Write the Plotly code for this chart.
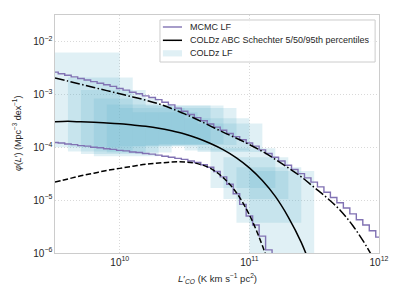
import numpy as np
import plotly.graph_objects as go

# ---------------- data (log10 values) ----------------
# COLDz LF boxes: log10 L'CO bin edges and log10 phi range
box_logL_lo = [9.5, 9.6, 9.7, 9.8, 9.9, 10.0, 10.1, 10.2, 10.3, 10.4, 10.5, 10.6, 10.7, 10.8, 10.9, 11.0]
box_logL_hi = [10.0, 10.1, 10.2, 10.3, 10.4, 10.5, 10.6, 10.7, 10.8, 10.9, 11.0, 11.1, 11.2, 11.3, 11.4, 11.5]
box_logphi_hi = [-2.21, -2.68, -2.92, -3.08, -3.19, -3.26, -3.34, -3.21, -3.21, -3.26, -3.45, -3.55, -4.02, -4.19, -4.38, -4.45]
box_logphi_lo = [-4.00, -4.08, -4.13, -4.17, -4.10, -3.98, -3.98, -3.96, -3.94, -3.96, -4.06, -4.09, -4.77, -4.98, -5.43, -7.00]

# MCMC LF (step lines), bin centres in log10 L'CO
mcmc_logL = [9.50, 9.55, 9.60, 9.65, 9.70, 9.75, 9.80, 9.85, 9.90, 9.95,
             10.00, 10.05, 10.10, 10.15, 10.20, 10.25, 10.30, 10.35, 10.40, 10.45,
             10.50, 10.55, 10.60, 10.65, 10.70, 10.75, 10.80, 10.85, 10.90, 10.95,
             11.00, 11.05, 11.10, 11.15, 11.20, 11.25, 11.30, 11.35, 11.40, 11.45,
             11.50, 11.55, 11.60, 11.65, 11.70, 11.75, 11.80, 11.85, 11.90, 11.95, 12.00]
mcmc_upper = [-2.58, -2.61, -2.64, -2.67, -2.70, -2.73, -2.76, -2.79, -2.82, -2.85,
              -2.89, -2.92, -2.96, -2.99, -3.03, -3.06, -3.10, -3.15, -3.20, -3.26,
              -3.32, -3.38, -3.44, -3.50, -3.56, -3.62, -3.68, -3.74, -3.80, -3.86,
              -3.92, -3.98, -4.05, -4.12, -4.19, -4.26, -4.34, -4.42, -4.50, -4.58,
              -4.66, -4.75, -4.85, -4.95, -5.05, -5.15, -5.26, -5.37, -5.47, -5.58, -5.70]
mcmc_lower = [-3.91, -3.92, -3.94, -3.95, -3.97, -3.98, -4.00, -4.01, -4.03, -4.04,
              -4.06, -4.07, -4.09, -4.10, -4.12, -4.13, -4.15, -4.17, -4.19, -4.21,
              -4.23, -4.26, -4.29, -4.33, -4.38, -4.46, -4.56, -4.70, -4.88, -5.08,
              -5.30, -5.47, -5.68, -5.94, -6.25, -6.60, -7.20]

# COLDz ABC Schechter percentiles
abc_logL = [9.5, 9.6, 9.7, 9.8, 9.9, 10.0, 10.1, 10.2, 10.3, 10.4, 10.5, 10.6, 10.7,
            10.8, 10.9, 11.0, 11.1, 11.2, 11.3, 11.4, 11.5, 11.6, 11.7, 11.8, 11.9, 12.0]
abc_p95 = [-2.69, -2.75, -2.81, -2.87, -2.93, -2.99, -3.05, -3.11, -3.18, -3.27, -3.37, -3.48, -3.60,
           -3.72, -3.83, -3.95, -4.08, -4.23, -4.39, -4.56, -4.76, -4.96, -5.19, -5.49, -5.86, -6.30]
abc_p50 = [-3.52, -3.51, -3.52, -3.53, -3.54, -3.555, -3.58, -3.605, -3.64, -3.69, -3.75, -3.83, -3.93,
           -4.05, -4.20, -4.39, -4.63, -4.93, -5.32, -5.80, -6.42]
abc_p05 = [-4.66, -4.60, -4.54, -4.49, -4.44, -4.40, -4.36, -4.32, -4.30, -4.28, -4.28, -4.31, -4.40,
           -4.58, -4.86, -5.28, -5.86, -6.60]

legend_labels = ["MCMC LF", "COLDz ABC Schechter 5/50/95th percentiles", "COLDz LF"]

# ---------------- figure ----------------
FONT = "Liberation Sans, Arial, sans-serif"
purple = "#8172B3"
box_fill = "rgba(100,181,205,0.2)"
TXT = "#262626"

fig = go.Figure()

for i, (x0, x1, y1, y0) in enumerate(zip(box_logL_lo, box_logL_hi, box_logphi_hi, box_logphi_lo)):
    xs = [10 ** x0, 10 ** x1, 10 ** x1, 10 ** x0, 10 ** x0]
    ys = [10 ** y0, 10 ** y0, 10 ** y1, 10 ** y1, 10 ** y0]
    fig.add_trace(go.Scatter(
        x=xs, y=ys, mode="lines", fill="toself", fillcolor=box_fill,
        line=dict(width=0), name=legend_labels[2], showlegend=False, hoverinfo="skip"))

def pw(v):
    return [10 ** a for a in v]

fig.add_trace(go.Scatter(x=pw(mcmc_logL), y=pw(mcmc_upper), mode="lines",
                         line=dict(color=purple, width=1.4, shape="hvh"),
                         name=legend_labels[0], showlegend=False))
fig.add_trace(go.Scatter(x=pw(mcmc_logL[:len(mcmc_lower)]), y=pw(mcmc_lower), mode="lines",
                         line=dict(color=purple, width=1.4, shape="hvh"),
                         name=legend_labels[0], showlegend=False))

fig.add_trace(go.Scatter(x=pw(abc_logL[:len(abc_p50)]), y=pw(abc_p50), mode="lines",
                         line=dict(color="black", width=1.5, shape="spline"),
                         name=legend_labels[1], showlegend=False))
fig.add_trace(go.Scatter(x=pw(abc_logL), y=pw(abc_p95), mode="lines",
                         line=dict(color="black", width=1.5, dash="9.6px,2.4px,1.5px,2.4px", shape="spline"),
                         name=legend_labels[1], showlegend=False))
fig.add_trace(go.Scatter(x=pw(abc_logL[:len(abc_p05)]), y=pw(abc_p05), mode="lines",
                         line=dict(color="black", width=1.5, dash="5.5px,2.4px", shape="spline"),
                         name=legend_labels[1], showlegend=False))

axis_common = dict(
    type="log", dtick=1, exponentformat="power", showgrid=True,
    gridcolor="#d9d9d9", griddash="1px,2px", gridwidth=1,
    showline=True, mirror=True, linecolor="#cccccc", linewidth=1,
    ticks="", zeroline=False,
    tickfont=dict(family=FONT, size=8, color=TXT),
)

# manual legend (paper coordinates of the plot area)
shapes = [
    dict(type="rect", xref="paper", yref="paper", x0=0.324, x1=0.988, y0=0.8025, y1=0.979,
         fillcolor="rgba(255,255,255,0.85)", line=dict(color="#cccccc", width=1), layer="above"),
    dict(type="line", xref="paper", yref="paper", x0=0.333, x1=0.392, y0=0.9496, y1=0.9496,
         line=dict(color=purple, width=1.4), layer="above"),
    dict(type="line", xref="paper", yref="paper", x0=0.333, x1=0.392, y0=0.8937, y1=0.8937,
         line=dict(color="black", width=1.5), layer="above"),
    dict(type="rect", xref="paper", yref="paper", x0=0.333, x1=0.392, y0=0.826, y1=0.852,
         fillcolor=box_fill, line=dict(width=0), layer="above"),
]
ann_y = [0.9496, 0.8937, 0.839]
annotations = [
    dict(xref="paper", yref="paper", x=0.4105, y=yy, text=t, showarrow=False,
         xanchor="left", yanchor="middle", font=dict(family=FONT, size=9, color=TXT))
    for t, yy in zip(legend_labels, ann_y)
]
annotations += [
    dict(xref="paper", yref="paper", x=0.5015, y=-0.109, showarrow=False,
         xanchor="center", yanchor="middle",
         text="<i>L</i>′<sub><i>CO</i></sub> (K km s<sup>−1</sup> pc<sup>2</sup>)",
         font=dict(family=FONT, size=9.5, color=TXT)),
    dict(xref="paper", yref="paper", x=-0.117, y=0.50, showarrow=False,
         xanchor="center", yanchor="middle", textangle=-90,
         text="<i>φ</i>(<i>L</i>′) (Mpc<sup>−3</sup> dex<sup>−1</sup>)",
         font=dict(family=FONT, size=9, color=TXT)),
]

fig.update_layout(
    width=391, height=291,
    margin=dict(l=47, r=20, t=7, b=46),
    paper_bgcolor="white", plot_bgcolor="white",
    font=dict(family=FONT, size=8, color=TXT),
    xaxis=dict(axis_common, range=[9.5, 12.0]),
    yaxis=dict(axis_common, range=[-6, -1.5]),
    shapes=shapes, annotations=annotations,
    showlegend=False,
)

fig.write_html("out.html")
